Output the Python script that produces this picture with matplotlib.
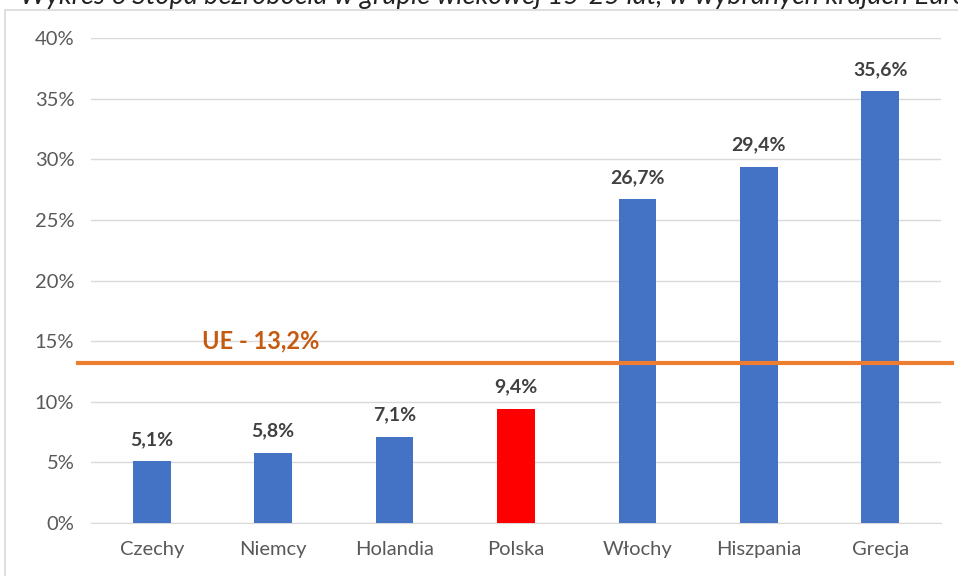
import matplotlib
matplotlib.use('Agg')
import matplotlib.pyplot as plt
from matplotlib.patches import Rectangle

plt.rcParams['font.family'] = ['Lato', 'DejaVu Sans']

kraje = ['Czechy', 'Niemcy', 'Holandia', 'Polska', 'Włochy', 'Hiszpania', 'Grecja']
stopa = [5.1, 5.8, 7.1, 9.4, 26.7, 29.4, 35.6]
kolory = ['#4472C4', '#4472C4', '#4472C4', '#FF0000', '#4472C4', '#4472C4', '#4472C4']
ue = 13.2
y_ticks = [0, 5, 10, 15, 20, 25, 30, 35, 40]

fig = plt.figure(figsize=(9.58, 5.76), dpi=100)

# tytuł ucięty u góry
fig.text(0.021, 1 - 4 / 576,
         'Wykres 6 Stopa bezrobocia w grupie wiekowej 15-25 lat, w wybranych krajach Europy',
         fontsize=19.5, style='italic', color='#222222', va='baseline', ha='left')

# ramka wykresu
fig.patches.append(Rectangle((5 / 958, -0.1), 1.1, 1 - 10 / 576 + 0.1,
                             transform=fig.transFigure, fill=False,
                             edgecolor='#D9D9D9', linewidth=1.2))

ax = fig.add_axes([91 / 958, 53 / 576, 850 / 958, 485 / 576])
x = range(len(kraje))
bars = ax.bar(x, stopa, width=0.31, color=kolory, zorder=3)

for xi, v in zip(x, stopa):
    ax.text(xi, v + 1.1, '{:.1f}%'.format(v).replace('.', ','),
            ha='center', va='bottom', fontsize=14, fontweight='bold', color='#404040')

ax.axhline(ue, xmin=-13 / 850, xmax=1 + 11 / 850, color='#ED7D31',
           linewidth=3, zorder=4, clip_on=False)
ax.text(0.9, 15, 'UE - ' + '{:.1f}%'.format(ue).replace('.', ','),
        ha='center', va='center', fontsize=17, fontweight='bold', color='#C55A11', zorder=5)

ax.set_xlim(-0.5, len(kraje) - 0.5)
ax.set_ylim(0, 40)
ax.set_yticks(y_ticks)
ax.set_yticklabels(['{}%'.format(t) for t in y_ticks])
ax.set_xticks(list(x))
ax.set_xticklabels(kraje)
ax.grid(axis='y', color='#D9D9D9', linewidth=1, zorder=0)
for s in ['top', 'right', 'left']:
    ax.spines[s].set_visible(False)
ax.spines['bottom'].set_color('#D9D9D9')
ax.tick_params(axis='both', length=0, labelsize=14.5, colors='#595959')
ax.tick_params(axis='x', pad=13)
ax.tick_params(axis='y', pad=12)

fig.savefig('out.png', dpi=100)
